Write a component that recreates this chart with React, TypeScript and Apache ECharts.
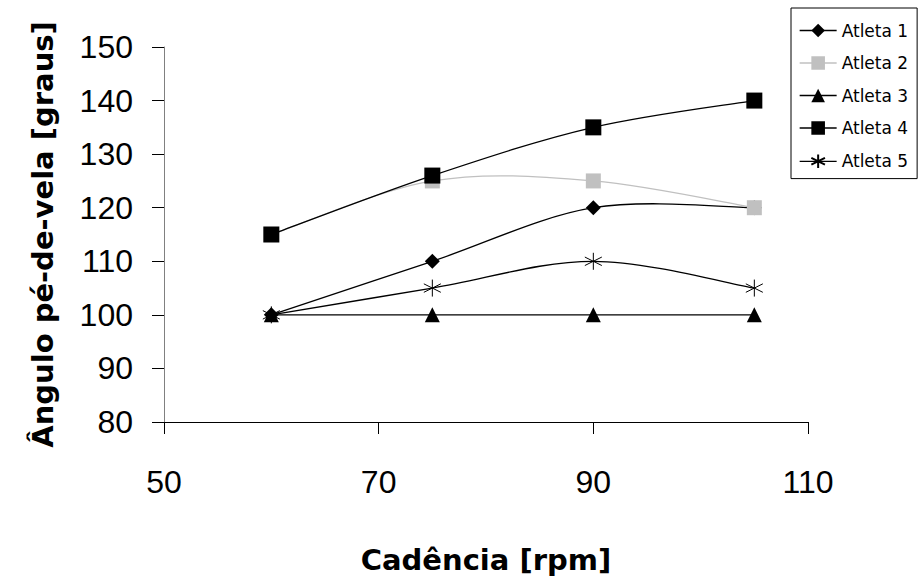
import React, { useEffect, useRef } from "react";
import * as echarts from "echarts";

const cadence = [60, 75, 90, 105];
const atleta1 = [100, 110, 120, 120];
const atleta2 = [115, 125, 125, 120];
const atleta3 = [100, 100, 100, 100];
const atleta4 = [115, 126, 135, 140];
const atleta5 = [100, 105, 110, 105];
const seriesNames = ["Atleta 1", "Atleta 2", "Atleta 3", "Atleta 4", "Atleta 5"];
const xTitle = "Cadência [rpm]";
const yTitle = "Ângulo pé-de-vela [graus]";

const FONT = "DejaVu Sans";
const TICK_FONT = "Liberation Sans";
const ASTERISK = "path://M5 0 L5 10 M0.7 2.5 L9.3 7.5 M9.3 2.5 L0.7 7.5";

function pairs(vals: number[]) {
  return cadence.map((c, i) => [c, vals[i]]);
}

// Excel-like smoothed curve (Catmull-Rom, factor 1/6) through the axis-mapped points
function curveSeries(name: string, vals: number[], color: string) {
  return {
    name: name + " curva",
    type: "custom",
    silent: true,
    data: pairs(vals),
    renderItem: (params: any, api: any) => {
      if (params.dataIndex !== 0) return null;
      const p = cadence.map((c, i) => api.coord([c, vals[i]]));
      let d = `M${p[0][0]} ${p[0][1]}`;
      for (let i = 0; i < p.length - 1; i++) {
        const p0 = p[Math.max(i - 1, 0)];
        const p1 = p[i];
        const p2 = p[i + 1];
        const p3 = p[Math.min(i + 2, p.length - 1)];
        const c1x = p1[0] + (p2[0] - p0[0]) / 6;
        const c1y = p1[1] + (p2[1] - p0[1]) / 6;
        const c2x = p2[0] - (p3[0] - p1[0]) / 6;
        const c2y = p2[1] - (p3[1] - p1[1]) / 6;
        d += ` C${c1x} ${c1y} ${c2x} ${c2y} ${p2[0]} ${p2[1]}`;
      }
      return {
        type: "path",
        shape: { pathData: d },
        style: { stroke: color, fill: "none", lineWidth: 1.3 },
      };
    },
  };
}

export default function App() {
  const ref = useRef<HTMLDivElement>(null);
  useEffect(() => {
    const chart = echarts.init(ref.current!, undefined, { renderer: "svg" });
    const mk = (name: string, data: number[], color: string, symbol: string, size: number, extra: any = {}) => ({
      name,
      type: "line",
      data: pairs(data),
      symbol,
      symbolSize: size,
      lineStyle: { color, width: 1.3, opacity: 0 },
      itemStyle: { color, borderColor: color, borderWidth: 0 },
      ...extra,
    });
    chart.setOption({
      animation: false,
      backgroundColor: "#ffffff",
      textStyle: { fontFamily: FONT },
      grid: { left: 164, right: 112, top: 47, bottom: 158, outerBoundsMode: "none", containLabel: false },
      legend: {
        orient: "vertical",
        left: 791,
        top: 8,
        padding: [14, 9, 8, 8],
        itemWidth: 37,
        itemHeight: 17,
        itemGap: 15.5,
        borderColor: "#000",
        borderWidth: 1,
        lineStyle: { opacity: 1, width: 1.3 },
        textStyle: { fontFamily: FONT, fontSize: 17, color: "#000" },
        data: seriesNames,
      },
      xAxis: {
        type: "value",
        min: 50,
        max: 110,
        interval: 20,
        name: xTitle,
        nameLocation: "middle",
        nameGap: 123,
        nameTextStyle: { fontFamily: FONT, fontSize: 29, fontWeight: "bold", color: "#000" },
        axisLine: { show: true, onZero: false, lineStyle: { color: "#000", width: 1 } },
        axisTick: { show: true, length: 12, inside: false, lineStyle: { color: "#000" } },
        axisLabel: { margin: 44, fontSize: 32, color: "#000", fontFamily: TICK_FONT },
        splitLine: { show: false },
      },
      yAxis: {
        type: "value",
        min: 80,
        max: 150,
        interval: 10,
        name: yTitle,
        nameLocation: "middle",
        nameGap: 107,
        nameRotate: 90,
        nameTextStyle: { fontFamily: FONT, fontSize: 29, fontWeight: "bold", color: "#000" },
        axisLine: { show: true, onZero: false, lineStyle: { color: "#808080", width: 1 } },
        axisTick: { show: true, length: 12, inside: false, lineStyle: { color: "#000" } },
        axisLabel: { margin: 31, fontSize: 32, color: "#000", fontFamily: TICK_FONT },
        splitLine: { show: false },
      },
      series: [
        curveSeries(seriesNames[0], atleta1, "#000000"),
        curveSeries(seriesNames[1], atleta2, "#c0c0c0"),
        curveSeries(seriesNames[2], atleta3, "#000000"),
        curveSeries(seriesNames[3], atleta4, "#000000"),
        curveSeries(seriesNames[4], atleta5, "#000000"),
        mk(seriesNames[0], atleta1, "#000000", "diamond", 15),
        mk(seriesNames[1], atleta2, "#c0c0c0", "rect", 15),
        mk(seriesNames[2], atleta3, "#000000", "triangle", 15),
        mk(seriesNames[3], atleta4, "#000000", "rect", 16),
        mk(seriesNames[4], atleta5, "#000000", ASTERISK, 17, {
          itemStyle: { color: "none", borderColor: "#000", borderWidth: 1 },
        }),
      ],
    });
    return () => chart.dispose();
  }, []);
  return <div ref={ref} style={{ width: 920, height: 580, position: "absolute", left: 0, top: 0 }} />;
}
